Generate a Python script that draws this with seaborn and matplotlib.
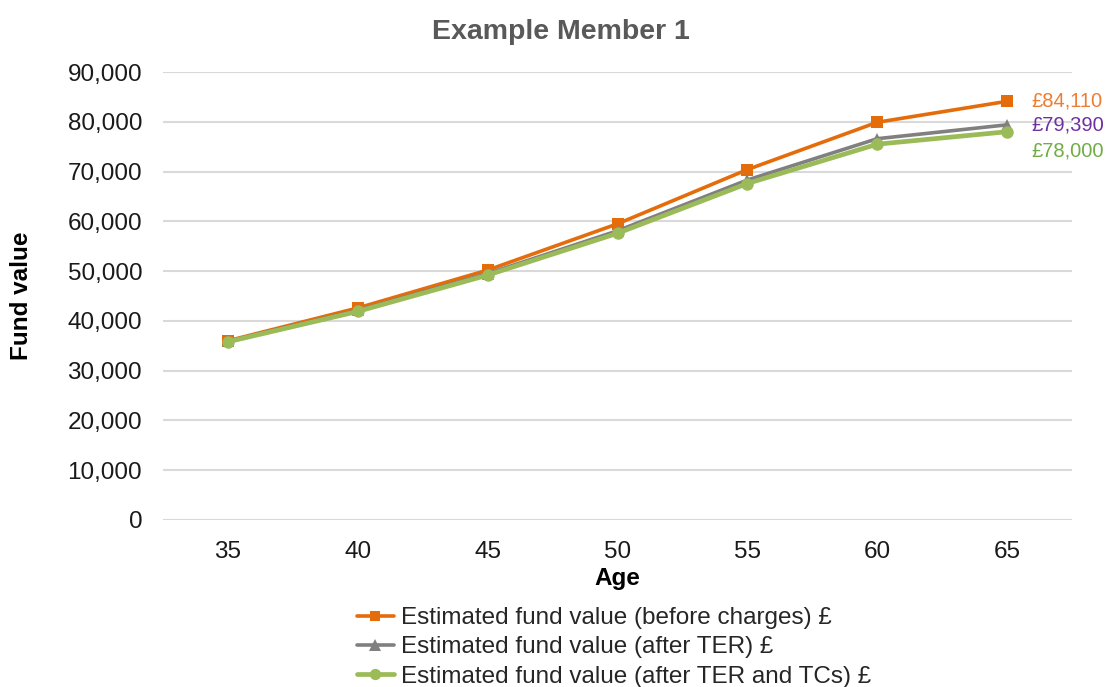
import matplotlib
matplotlib.use("Agg")
import matplotlib.pyplot as plt
import matplotlib.ticker as mticker
import seaborn as sns
import pandas as pd

ages = [35, 40, 45, 50, 55, 60, 65]
before_charges = [36000, 42600, 50200, 59500, 70400, 79900, 84110]
after_ter = [35900, 42100, 49500, 58100, 68300, 76600, 79390]
after_ter_tcs = [35800, 41900, 49200, 57600, 67600, 75500, 78000]
series_names = [
    "Estimated fund value (before charges) £",
    "Estimated fund value (after TER) £",
    "Estimated fund value (after TER and TCs) £",
]
end_labels = ["£84,110", "£79,390", "£78,000"]

sns.set_theme(style="white")
plt.rcParams["font.family"] = ["Liberation Sans", "DejaVu Sans"]

fig = plt.figure(figsize=(11.1, 6.87), dpi=100)
ax = fig.add_axes([163 / 1110, 1 - 520 / 687, (1072 - 163) / 1110, (520 - 72) / 687])

line_colors = ["#E46C0A", "#808080", "#9BBB59"]
label_colors = ["#ED7D31", "#7030A0", "#70AD47"]
markers = ["s", "^", "o"]
msizes = [8, 9, 9]
lws = [2.6, 2.6, 3.4]
label_offsets = [0, 0, -19]

for vals, name, c, m, ms, lw in zip(
    [before_charges, after_ter, after_ter_tcs], series_names, line_colors, markers, msizes, lws
):
    df = pd.DataFrame({"Age": ages, "Value": vals})
    sns.lineplot(data=df, x="Age", y="Value", ax=ax, color=c, marker=m,
                 markersize=ms, markeredgewidth=0, linewidth=lw, label=name)

for vals, txt, c, off in zip([before_charges, after_ter, after_ter_tcs], end_labels, label_colors, label_offsets):
    ax.annotate(txt, xy=(ages[-1], vals[-1]), xytext=(24, off), textcoords="offset pixels",
                ha="left", va="center", color=c, fontsize=14.5, annotation_clip=False)

ax.set_xlim(32.5, 67.5)
ax.set_ylim(0, 90000)
ax.set_xticks(ages)
ax.set_yticks(range(0, 90001, 10000))
ax.yaxis.set_major_formatter(mticker.FuncFormatter(lambda v, p: f"{v:,.0f}"))
ax.grid(axis="y", color="#D9D9D9", linewidth=1.5)
ax.grid(axis="x", visible=False)
for s in ax.spines.values():
    s.set_visible(False)
ax.tick_params(axis="both", length=0, labelsize=17.5, colors="#1a1a1a")
ax.tick_params(axis="y", pad=15)
ax.tick_params(axis="x", pad=15)

ax.set_xlabel("Age", fontsize=17.5, fontweight="bold", labelpad=3, color="black")
ax.set_ylabel("Fund value", fontsize=17.5, fontweight="bold", color="black")
ax.yaxis.set_label_coords((33 - 163) / 909, 0.5)

fig.suptitle("Example Member 1", x=0.505, y=1 - 19 / 687, va="top",
             fontsize=20.5, fontweight="bold", color="#595959")

ax.legend(loc="upper center", bbox_to_anchor=(614 / 1110, 1 - 607 / 687),
          bbox_transform=fig.transFigure, frameon=False, fontsize=17.5,
          handlelength=1.5, handletextpad=0.3, labelspacing=0.3,
          borderpad=0, borderaxespad=0, markerscale=0.9)

fig.savefig("out.png", dpi=100)
